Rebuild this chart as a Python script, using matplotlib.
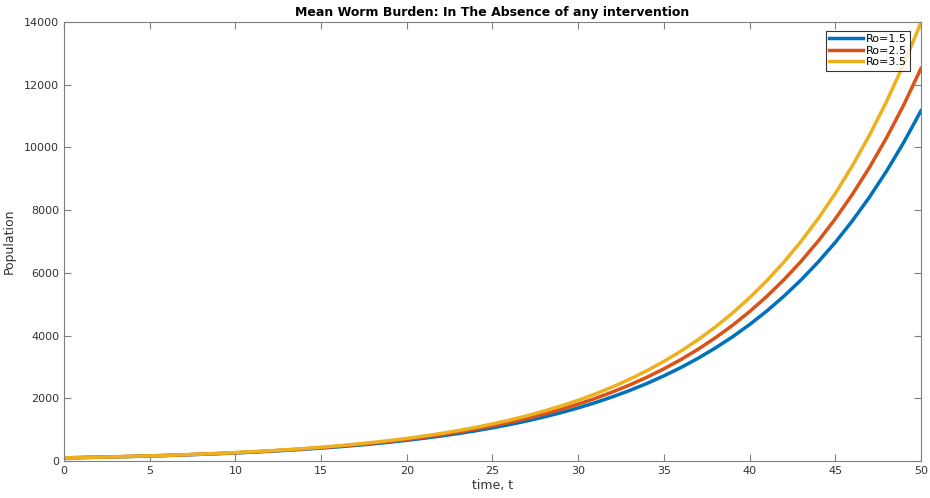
import matplotlib
matplotlib.use("Agg")
import matplotlib.pyplot as plt

t = list(range(0, 51))

ro_15 = [100, 110, 121, 133, 146, 160, 176, 194, 213, 234,
         257, 282, 310, 341, 375, 412, 452, 497, 546, 600,
         660, 725, 797, 875, 962, 1057, 1162, 1276, 1403, 1542,
         1694, 1862, 2046, 2248, 2470, 2715, 2983, 3278, 3603, 3959,
         4351, 4781, 5254, 5773, 6345, 6972, 7662, 8419, 9252, 10167,
         11170]
ro_25 = [100, 110, 121, 134, 147, 162, 179, 197, 217, 239,
         263, 289, 319, 351, 387, 426, 469, 517, 569, 627,
         690, 760, 837, 922, 1016, 1119, 1232, 1357, 1495, 1646,
         1813, 1997, 2200, 2423, 2669, 2939, 3237, 3566, 3927, 4325,
         4764, 5247, 5779, 6365, 7011, 7722, 8505, 9367, 10317, 11363,
         12520]
ro_35 = [100, 110, 122, 135, 149, 164, 181, 200, 220, 243,
         269, 297, 327, 361, 399, 440, 486, 536, 592, 654,
         722, 796, 879, 970, 1071, 1182, 1305, 1441, 1591, 1756,
         1938, 2139, 2362, 2607, 2878, 3176, 3506, 3870, 4272, 4716,
         5206, 5747, 6343, 7002, 7729, 8532, 9418, 10396, 11476, 12668,
         13980]

labels = ["Ro=1.5", "Ro=2.5", "Ro=3.5"]
colors = ["#0072BD", "#D95319", "#EDB120"]

xticks = [0, 5, 10, 15, 20, 25, 30, 35, 40, 45, 50]
yticks = [0, 2000, 4000, 6000, 8000, 10000, 12000, 14000]

fig = plt.figure(figsize=(9.3, 4.98), dpi=100)
ax = fig.add_axes([0.0688, 0.0743, 0.9215, 0.8815])

for ys, lab, c in zip([ro_15, ro_25, ro_35], labels, colors):
    ax.plot(t, ys, color=c, lw=2.5, label=lab, solid_joinstyle="round")

ax.set_xlim(0, 50)
ax.set_ylim(0, 14000)
ax.set_xticks(xticks)
ax.set_yticks(yticks)
ax.set_xticklabels([str(v) for v in xticks])
ax.set_yticklabels([str(v) for v in yticks])

axcol = "#7f7f7f"
for s in ax.spines.values():
    s.set_color(axcol)
    s.set_linewidth(0.8)
ax.tick_params(direction="in", top=True, right=True, length=5, width=0.8,
               color=axcol, labelcolor="#333333", labelsize=8)

ax.set_xlabel("time, t", fontsize=9, color="#333333", labelpad=2)
ax.set_ylabel("Population", fontsize=9, color="#333333", labelpad=6)
ax.set_title("Mean Worm Burden: In The Absence of any intervention",
             fontsize=9, fontweight="bold", pad=4)

leg = ax.legend(loc="upper right", fontsize=8, frameon=True, fancybox=False,
                handlelength=3.0, handletextpad=0.3, borderpad=0.3, labelspacing=0.15,
                bbox_to_anchor=(0.9942, 0.993))
leg.get_frame().set_edgecolor("black")
leg.get_frame().set_linewidth(0.8)

fig.savefig("out.png", dpi=100)
